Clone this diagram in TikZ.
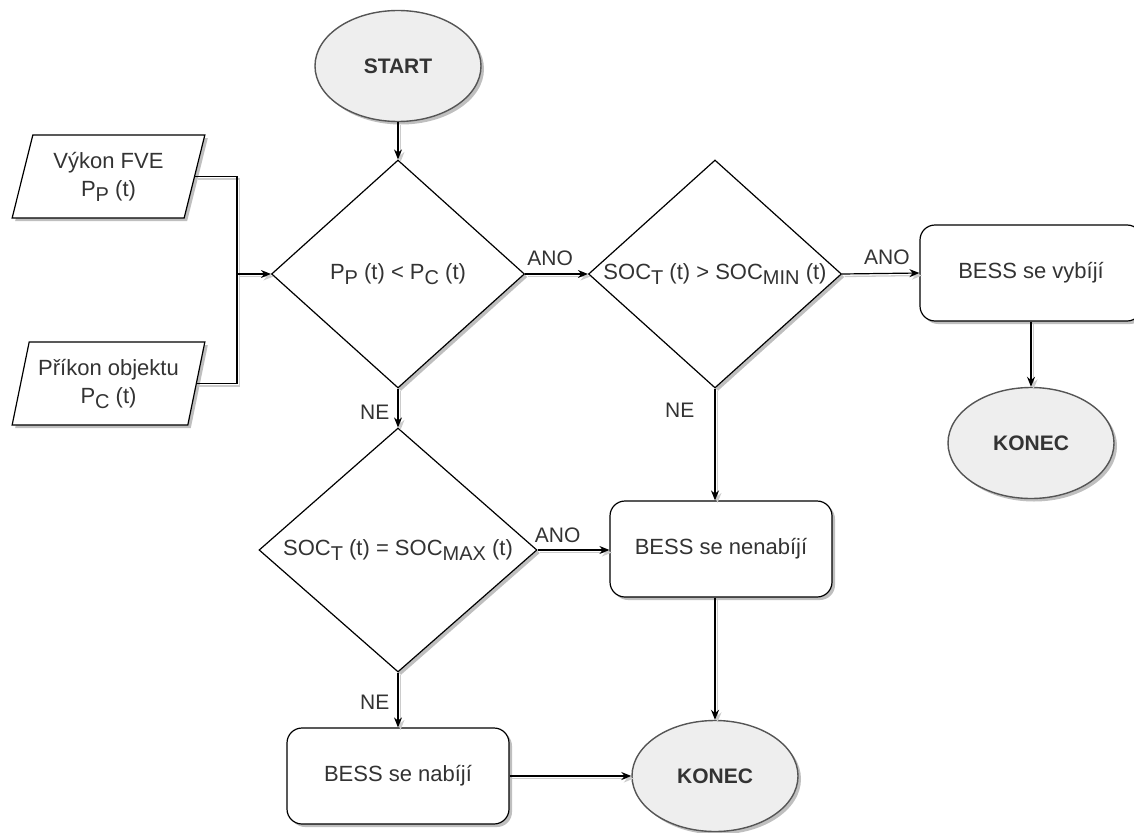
\documentclass[tikz,border=0pt]{standalone}
\usepackage{fontspec}
\setmainfont{Liberation Sans}
\usetikzlibrary{shapes.geometric, arrows.meta, shadows}
\definecolor{txtgray}{HTML}{333333}
\definecolor{termfill}{HTML}{EEEEEE}
\definecolor{termline}{HTML}{555555}
\newcommand\sbx[1]{\raisebox{-5pt}{\fontsize{20}{20}\selectfont #1}}
\tikzset{
  shd/.style={drop shadow={shadow xshift=3pt, shadow yshift=-3pt, opacity=0.25, fill=black}},
  term/.style={ellipse, draw=termline, fill=termfill, line width=1.4pt, minimum width=166pt, minimum height=111pt,
    inner sep=0pt, font=\bfseries\fontsize{21}{25}\selectfont, shd},
  proc/.style={rectangle, rounded corners=15pt, draw, fill=white, line width=1.2pt, minimum width=222pt,
    minimum height=96pt, inner sep=0pt, shd},
  dec/.style={diamond, draw, fill=white, line width=1.2pt, inner sep=0pt, shd},
  io/.style={trapezium, trapezium left angle=73, trapezium right angle=107, trapezium stretches=true,
    draw, fill=white, line width=1.2pt, minimum width=193pt, minimum height=83pt, inner sep=0pt,
    align=center, font=\fontsize{22}{28}\selectfont, shd},
  conn/.style={line width=1.2pt, preaction={draw=black!20, line width=1.3pt, transform canvas={xshift=2.5pt, yshift=-2.5pt}}},
  arr/.style={conn, -{Stealth[length=10pt, width=8pt]}},
  lbl/.style={font=\fontsize{21}{25}\selectfont, inner sep=2pt, text=txtgray},
}
\begin{document}
\begin{tikzpicture}[x=1pt, y=-1pt, font=\fontsize{22}{26}\selectfont, text=txtgray]
\useasboundingbox (0,0) rectangle (1134,832);

\node[term] (start) at (398,66) {START};
\node[dec, minimum width=253pt, minimum height=228pt, label=center:{P\sbx{P} (t) < P\sbx{C} (t)}] (d1) at (398,274) {};
\node[dec, minimum width=253pt, minimum height=228pt, label=center:{SOC\sbx{T} (t) > SOC\sbx{MIN} (t)}] (d2) at (715,274) {};
\node[dec, minimum width=278pt, minimum height=244pt, label=center:{SOC\sbx{T} (t) = SOC\sbx{MAX} (t)}] (d3) at (398,550) {};

\node[io] (p1) at (108.5,176.5) {Výkon FVE\\P\sbx{P} (t)};
\node[io] (p2) at (108.5,383.5) {Příkon objektu\\P\sbx{C} (t)};

\node[proc] (vyb) at (1031,273) {BESS se vybíjí};
\node[term] (konec1) at (1031,443) {KONEC};
\node[proc] (nen) at (721,549) {BESS se nenabíjí};
\node[proc] (nab) at (398,776) {BESS se nabíjí};
\node[term] (konec2) at (715,776) {KONEC};

\coordinate (j) at (237,274);

\draw[conn] (p1.east) -| (j);
\draw[conn] (p2.east) -| (j);
\draw[arr] (j) -- (d1.west);
\draw[arr] (start.south) -- (d1.north);
\draw[arr] (d1.east) -- node[lbl, above=6pt, pos=0.4] {ANO} (d2.west);
\draw[arr] (d2.east) -- node[lbl, above=6pt, pos=0.58] {ANO} (vyb.west);
\draw[arr] (vyb.south) -- (konec1.north);
\draw[arr] (d1.south) -- node[lbl, left=6pt, pos=0.6] {NE} (d3.north);
\draw[arr] (d2.south) -- node[lbl, left=18pt, pos=0.19] {NE} (d2.south |- nen.north);
\draw[arr] (d3.east) -- node[lbl, above=5pt, pos=0.28] {ANO} (d3.east -| nen.west);
\draw[arr] (d3.south) -- node[lbl, left=6pt, pos=0.54] {NE} (nab.north);
\draw[arr] (konec2.north |- nen.south) -- (konec2.north);
\draw[arr] (nab.east) -- (konec2.west);
\end{tikzpicture}
\end{document}
